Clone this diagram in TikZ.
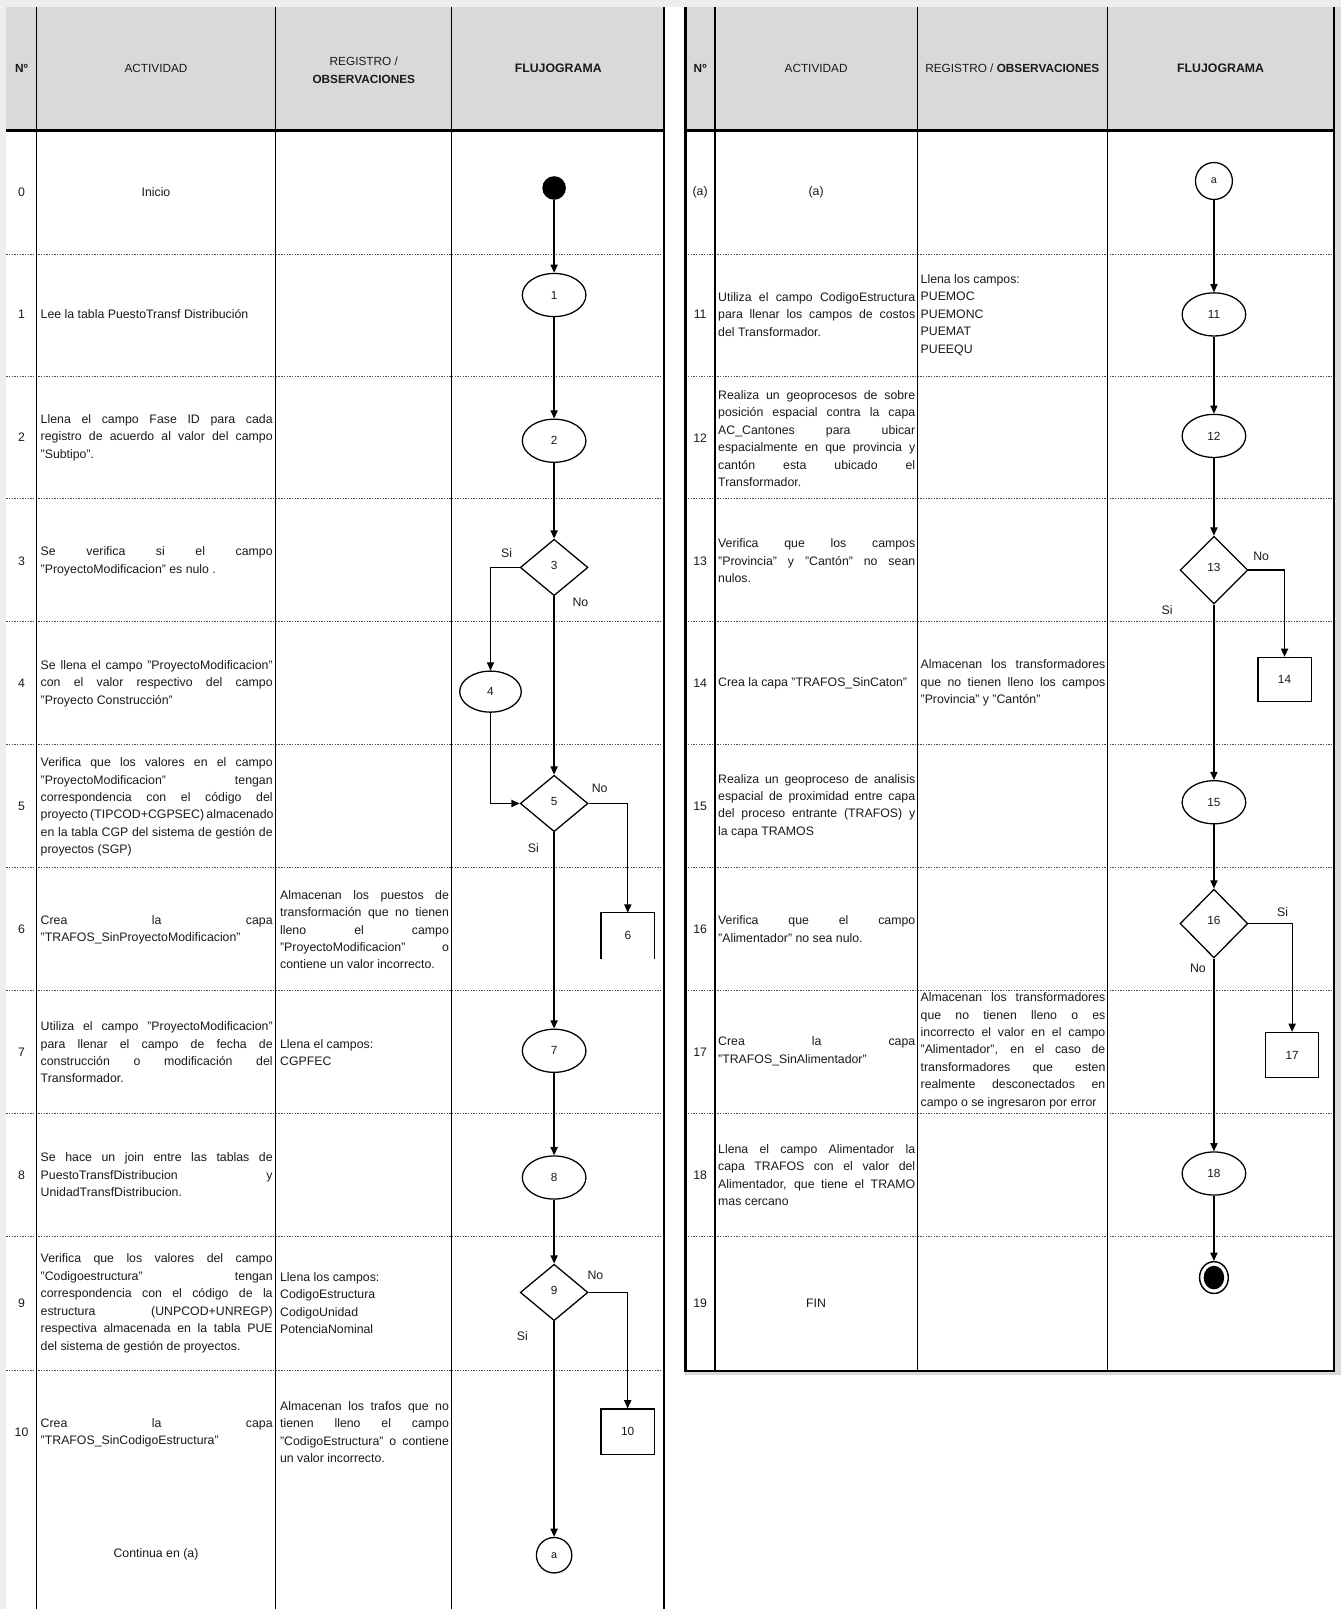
\documentclass[tikz,border=0pt]{standalone}
\usepackage{fontspec}
\setmainfont{Liberation Sans}
\usetikzlibrary{shapes.geometric,arrows.meta}

\hbadness=10000
\hfuzz=30pt
\definecolor{hdrgray}{HTML}{D9D9D9}
\definecolor{pageshade}{HTML}{EEEEEE}
\definecolor{edgeshade}{HTML}{DADADA}
\definecolor{ink}{HTML}{1A1A1A}
\definecolor{sepgray}{HTML}{4A4A4A}

\newcommand\bodyfont{\fontsize{12}{17}\selectfont}
\newcommand\headfont{\fontsize{11.5}{17.5}\selectfont}
\newcommand\flowfont{\fontsize{11.5}{13}\selectfont}
% a block of lines, 17pt apart
\newcommand\textblock[1]{\vbox{\baselineskip=17pt\lineskiplimit=-30pt\lineskip=0pt #1}}
% justified lines, one macro per column width
\newcommand\JA[1]{\hbox to 226pt{#1}}
\newcommand\JR[1]{\hbox to 164.5pt{#1}}
\newcommand\JB[1]{\hbox to 192pt{#1}}
\newcommand\JS[1]{\hbox to 180pt{#1}}

\tikzset{
  colline/.style={line width=1.2pt, draw=black},
  tableframe/.style={line width=2.6pt, draw=black},
  rowsep/.style={line width=0.9pt, draw=sepgray, dash pattern=on 1.3pt off 1.3pt},
  flow/.style={line width=1.25pt, draw=black},
  arr/.style={flow, -{Triangle[length=8pt,width=7pt]}},
  proc/.style={ellipse, draw=black, line width=1.25pt, minimum width=62pt, minimum height=42pt, inner sep=0pt, font=\flowfont, text=ink},
  dec/.style={diamond, draw=black, line width=1.25pt, minimum width=66pt, minimum height=55pt, inner sep=0pt, font=\flowfont, text=ink},
  outbox/.style={rectangle, draw=black, line width=1.25pt, minimum width=52pt, minimum height=44pt, inner sep=0pt, font=\flowfont, text=ink},
  openbox/.style={rectangle, minimum width=52pt, minimum height=44.5pt, inner sep=0pt, font=\flowfont, text=ink},
  conn/.style={ellipse, draw=black, line width=1.25pt, minimum width=34.5pt, minimum height=34.5pt, inner sep=0pt, font=\fontsize{10.5}{12}\selectfont, text=ink},
  startdot/.style={ellipse, fill=black, minimum width=23pt, minimum height=23pt, inner sep=0pt},
  endring/.style={ellipse, draw=black, line width=1.4pt, minimum width=28pt, minimum height=31pt, inner sep=0pt},
  enddot/.style={ellipse, fill=black, minimum width=20pt, minimum height=23pt, inner sep=0pt},
  txt/.style={anchor=west, inner sep=0pt, font=\bodyfont, text=ink},
  num/.style={inner sep=0pt, font=\bodyfont, text=ink},
  hd/.style={inner sep=0pt, font=\headfont, text=ink, align=center},
  yn/.style={inner sep=0pt, font=\bodyfont, text=ink},
}

\begin{document}
\begin{tikzpicture}[x=1pt,y=-1pt]
\useasboundingbox (0,0) rectangle (1307,1568);
\fill[white] (0,0) rectangle (1307,1568);

% page shading along the edges
\fill[pageshade] (0,0) rectangle (1307,7.3);
\fill[pageshade] (0,7.3) rectangle (6.2,1568);
\fill[edgeshade] (1301.3,7.3) rectangle (1307,1339.5);
\fill[edgeshade] (668,1337.3) rectangle (1307,1339.5);

% header bands
\fill[hdrgray] (6.2,7.3) rectangle (647,127);
\fill[hdrgray] (668,7.3) rectangle (1300,127);

% row separators
\foreach \yy in {247.5,367,486,606,725,845,965,1085,1205,1336}
  \draw[rowsep] (6.2,\yy) -- (646,\yy);
\foreach \yy in {247.5,367,486,606,725,845,965,1085,1205}
  \draw[rowsep] (668,\yy) -- (1300,\yy);

% column rules
\foreach \xx in {35.4,268.6,440.3}
  \draw[colline] (\xx,7.3) -- (\xx,1568);
\foreach \xx in {696.8,893.8,1079.1}
  \draw[colline] (\xx,7.3) -- (\xx,1336);

% frames
\draw[tableframe] (6.2,127) -- (647,127);
\draw[tableframe] (647,7.3) -- (647,1568);
\draw[tableframe] (668,7.3) -- (668,1336) -- (1300,1336) -- (1300,7.3);
\draw[tableframe] (668,127) -- (1300,127);

% ---------- headers ----------
\node[hd] (hNoL) at (21,67) {\bfseries Nº};
\node[hd] (hActL) at (152,67) {ACTIVIDAD};
\node[hd] (hRegL) at (354.5,68.5) {REGISTRO /\\\textbf{OBSERVACIONES}};
\node[hd, font=\fontsize{12}{14}\selectfont\bfseries] (hFluL) at (544,67) {FLUJOGRAMA};
\node[hd] (hNoR) at (682.3,67) {\bfseries Nº};
\node[hd] (hActR) at (795.3,67) {ACTIVIDAD};
\node[hd] (hRegR) at (986.5,67) {REGISTRO / \textbf{OBSERVACIONES}};
\node[hd, font=\fontsize{12}{14}\selectfont\bfseries] (hFluR) at (1189.5,67) {FLUJOGRAMA};

% ---------- numbers ----------
\node[num] (nL0) at (21,187.5) {0};
\node[num] (nL1) at (21,306.5) {1};
\node[num] (nL2) at (21,426.5) {2};
\node[num] (nL3) at (21,546.5) {3};
\node[num] (nL4) at (21,665.5) {4};
\node[num] (nL5) at (21,786) {5};
\node[num] (nL6) at (21,905.5) {6};
\node[num] (nL7) at (21,1025) {7};
\node[num] (nL8) at (21,1145) {8};
\node[num] (nL9) at (21,1270) {9};
\node[num] (nL10) at (21,1395.5) {10};
\node[num] (nRa) at (682.3,187.5) {(a)};
\node[num] (nR11) at (682.3,306.5) {11};
\node[num] (nR12) at (682.3,427) {12};
\node[num] (nR13) at (682.3,546.5) {13};
\node[num] (nR14) at (682.3,665.5) {14};
\node[num] (nR15) at (682.3,785.5) {15};
\node[num] (nR16) at (682.3,905.5) {16};
\node[num] (nR17) at (682.3,1025) {17};
\node[num] (nR18) at (682.3,1145) {18};
\node[num] (nR19) at (682.3,1270) {19};

% ---------- activities, left table ----------
\node[num] (a0) at (152,187.5) {Inicio};
\node[txt] (a1) at (39.5,306.5) {Lee la tabla PuestoTransf Distribución};
\node[txt] (a2) at (39.5,426.5) {\textblock{\JA{Llena el campo Fase ID para cada}\JA{registro de acuerdo al valor del campo}\hbox{"Subtipo".}}};
\node[txt] (a3) at (39.5,547) {\textblock{\JA{Se verifica si el campo}\hbox{"ProyectoModificacion" es nulo .}}};
\node[txt] (a4) at (39.5,666) {\textblock{\JA{Se llena el campo "ProyectoModificacion"}\JA{con el valor respectivo del campo}\hbox{"Proyecto Construcción"}}};
\node[txt] (a5) at (39.5,786.5) {\textblock{\JA{Verifica que los valores en el campo}\JA{"ProyectoModificacion" tengan}\JA{correspondencia con el código del}\JA{proyecto (TIPCOD+CGPSEC) almacenado}\JA{en la tabla CGP del sistema de gestión de}\hbox{proyectos (SGP)}}};
\node[txt] (a6) at (39.5,906) {\textblock{\JA{Crea la capa}\hbox{"TRAFOS\_SinProyectoModificacion"}}};
\node[txt] (a7) at (39.5,1025.5) {\textblock{\JA{Utiliza el campo "ProyectoModificacion"}\JA{para llenar el campo de fecha de}\JA{construcción o modificación del}\hbox{Transformador.}}};
\node[txt] (a8) at (39.5,1145) {\textblock{\JA{Se hace un join entre las tablas de}\JA{PuestoTransfDistribucion y}\hbox{UnidadTransfDistribucion.}}};
\node[txt] (a9) at (39.5,1270) {\textblock{\JA{Verifica que los valores del campo}\JA{"Codigoestructura" tengan}\JA{correspondencia con el código de la}\JA{estructura (UNPCOD+UNREGP)}\JA{respectiva almacenada en la tabla PUE}\hbox{del sistema de gestión de proyectos.}}};
\node[txt] (a10) at (39.5,1396.5) {\textblock{\JA{Crea la capa}\hbox{"TRAFOS\_SinCodigoEstructura"}}};
\node[num] (a10b) at (152,1514.6) {Continua en (a)};

% ---------- records, left table ----------
\node[txt] (g6) at (272.8,906) {\textblock{\JR{Almacenan los puestos de}\JR{transformación que no tienen}\JR{lleno el campo}\JR{"ProyectoModificacion" o}\hbox{contiene un valor incorrecto.}}};
\node[txt] (g7) at (272.8,1026) {\textblock{\hbox{Llena el campos:}\hbox{CGPFEC}}};
\node[txt] (g9) at (272.8,1270) {\textblock{\hbox{Llena los campos:}\hbox{CodigoEstructura}\hbox{CodigoUnidad}\hbox{PotenciaNominal}}};
\node[txt] (g10) at (272.8,1395.7) {\textblock{\JR{Almacenan los trafos que no}\JR{tienen lleno el campo}\JR{"CodigoEstructura" o contiene}\hbox{un valor incorrecto.}}};

% ---------- activities, right table ----------
\node[num] (qa) at (795.3,187.5) {(a)};
\node[txt] (q11) at (699.7,306.5) {\textblock{\JB{Utiliza el campo CodigoEstructura}\JB{para llenar los campos de costos}\hbox{del Transformador.}}};
\node[txt] (q12) at (699.7,427.5) {\textblock{\JB{Realiza un geoprocesos de sobre}\JB{posición espacial contra la capa}\JB{AC\_Cantones para ubicar}\JB{espacialmente en que provincia y}\JB{cantón esta ubicado el}\hbox{Transformador.}}};
\node[txt] (q13) at (699.7,546.5) {\textblock{\JB{Verifica que los campos}\JB{"Provincia" y "Cantón" no sean}\hbox{nulos.}}};
\node[txt] (q14) at (699.7,665.5) {Crea la capa "TRAFOS\_SinCaton"};
\node[txt] (q15) at (699.7,785.5) {\textblock{\JB{Realiza un geoproceso de analisis}\JB{espacial de proximidad entre capa}\JB{del proceso entrante (TRAFOS) y}\hbox{la capa TRAMOS}}};
\node[txt] (q16) at (699.7,905.5) {\textblock{\JB{Verifica que el campo}\hbox{"Alimentador" no sea nulo.}}};
\node[txt] (q17) at (699.7,1024.5) {\textblock{\JB{Crea la capa}\hbox{"TRAFOS\_SinAlimentador"}}};
\node[txt] (q18) at (699.7,1145) {\textblock{\JB{Llena el campo Alimentador la}\JB{capa TRAFOS con el valor del}\JB{Alimentador, que tiene el TRAMO}\hbox{mas cercano}}};
\node[num] (q19) at (795.3,1270) {FIN};

% ---------- records, right table ----------
\node[txt] (h11) at (897,306.8) {\textblock{\hbox{Llena los campos:}\hbox{PUEMOC}\hbox{PUEMONC}\hbox{PUEMAT}\hbox{PUEEQU}}};
\node[txt] (h14) at (897,665.5) {\textblock{\JS{Almacenan los transformadores}\JS{que no tienen lleno los campos}\hbox{"Provincia" y "Cantón"}}};
\node[txt] (h17) at (897,1024) {\textblock{\JS{Almacenan los transformadores}\JS{que no tienen lleno o es}\JS{incorrecto el valor en el campo}\JS{"Alimentador", en el caso de}\JS{transformadores que esten}\JS{realmente desconectados en}\hbox{campo o se ingresaron por error}}};

% ---------- flowchart, left ----------
\node[startdot] (s0) at (540,183.2) {};
\node[proc] (p1) at (540,287.5) {1};
\node[proc] (p2) at (540,429.5) {2};
\node[dec] (d3) at (540,553) {\raisebox{4pt}{3}};
\node[proc, minimum width=60pt, minimum height=40pt] (p4) at (478,674) {4};
\node[dec] (d5) at (540,783) {\raisebox{4pt}{5}};
\node[openbox] (b6) at (611.8,911.8) {6};
\node[proc] (p7) at (540,1024) {7};
\node[proc] (p8) at (540,1147.5) {8};
\node[dec] (d9) at (540,1259.5) {\raisebox{4pt}{9}};
\node[outbox, minimum height=44.5pt] (b10) at (611.7,1395.4) {10};
\node[conn] (aL) at (540,1515.6) {a};

\draw[flow] (b6.south west) -- (b6.north west) -- (b6.north east) -- (b6.south east);

\draw[arr] (s0) -- (p1);
\draw[arr] (p1) -- (p2);
\draw[arr] (p2) -- (d3);
\draw[arr] (d3.west) -| (p4.north);
\draw[arr] (d3.south) -- (d5.north);
\draw[arr] (p4.south) |- (d5.west);
\draw[arr] (d5.east) -| (b6.north);
\draw[arr] (d5.south) -- (p7.north);
\draw[arr] (p7) -- (p8);
\draw[arr] (p8) -- (d9);
\draw[arr] (d9.east) -| (b10.north);
\draw[arr] (d9.south) -- (aL.north);

\node[yn] (y3s) at (493.6,539.3) {Si};
\node[yn] (y3n) at (565.6,587.4) {No};
\node[yn] (y5n) at (584.4,768.4) {No};
\node[yn] (y5s) at (519.8,826.8) {Si};
\node[yn] (y9n) at (580.2,1242.7) {No};
\node[yn] (y9s) at (509,1301.8) {Si};

% ---------- flowchart, right ----------
\node[conn, minimum width=36pt, minimum height=36pt] (aR) at (1183,176.4) {a};
\node[proc] (p11) at (1183,306.4) {11};
\node[proc] (p12) at (1183,424.8) {12};
\node[dec, minimum height=66pt] (d13) at (1183,555.6) {\raisebox{6pt}{13}};
\node[outbox, minimum height=43.2pt] (b14) at (1251.8,662.3) {14};
\node[proc] (p15) at (1183,781.8) {15};
\node[dec, minimum height=67pt] (d16) at (1183,900) {\raisebox{7pt}{16}};
\node[outbox, minimum height=43.8pt] (b17) at (1259.2,1028.1) {17};
\node[proc] (p18) at (1183,1143.6) {18};
\node[endring] (fin) at (1183,1245) {};
\node[enddot] (finc) at (1183,1245) {};

\draw[arr] (aR) -- (p11);
\draw[arr] (p11) -- (p12);
\draw[arr] (p12) -- (d13);
\draw[arr] (d13.east) -| (b14.north);
\draw[arr] (d13.south) -- (p15.north);
\draw[arr] (p15) -- (d16);
\draw[arr] (d16.east) -| (b17.north);
\draw[arr] (d16.south) -- (p18.north);
\draw[arr] (p18) -- (fin);

\node[yn] (y13n) at (1229,541.9) {No};
\node[yn] (y13s) at (1137.4,594.5) {Si};
\node[yn] (y16s) at (1249.9,888.6) {Si};
\node[yn] (y16n) at (1167.4,943.2) {No};
\end{tikzpicture}
\end{document}
